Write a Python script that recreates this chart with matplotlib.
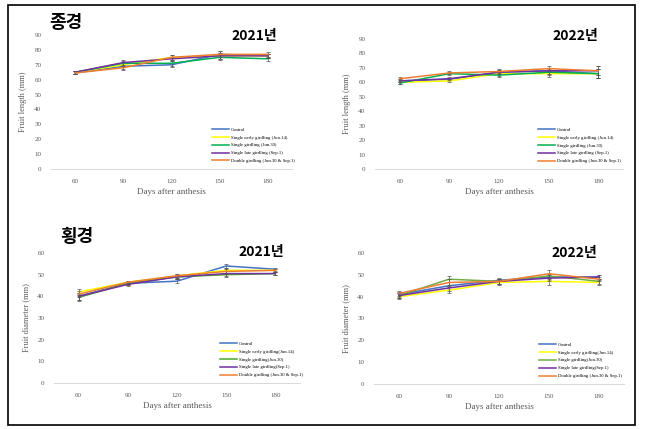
import matplotlib.pyplot as plt
from matplotlib.patches import Rectangle

days = [60, 90, 120, 150, 180]

labels_top = ['Control', 'Single early girdling (Jun.14)', 'Single girdling (Jun.30)',
              'Single late girdling (Sep.1)', 'Double girdling (Jun.30 & Sep.1)']
labels_bottom = ['Control', 'Single early girdling(Jun.14)', 'Single girdling(Jun.30)',
                 'Single late girdling(Sep.1)', 'Double girdling (Jun.30 & Sep.1)']

# fruit length, 2021
len21_control = [64.5, 69.0, 70.0, 77.0, 76.0]
len21_early = [65.0, 70.0, 75.0, 76.0, 76.0]
len21_single = [65.0, 71.0, 71.0, 75.0, 74.0]
len21_late = [65.0, 71.5, 74.0, 76.0, 76.0]
len21_double = [64.5, 68.0, 75.0, 77.0, 77.0]
len21_err = [1.0, 1.5, 1.5, 2.0, 1.5]

# fruit length, 2022
len22_control = [61.0, 62.0, 67.0, 68.0, 66.0]
len22_early = [60.0, 61.0, 66.0, 66.0, 66.0]
len22_single = [59.5, 66.0, 65.0, 67.0, 66.0]
len22_late = [61.0, 62.5, 67.0, 68.0, 68.0]
len22_double = [62.5, 66.5, 67.5, 69.5, 68.0]
len22_err = [1.0, 1.0, 1.5, 2.0, 3.0]

# fruit diameter, 2021
dia21_control = [40.0, 46.0, 47.0, 54.0, 52.5]
dia21_early = [42.0, 46.5, 49.5, 52.0, 52.0]
dia21_single = [39.5, 46.0, 49.0, 50.0, 50.5]
dia21_late = [40.0, 45.5, 49.0, 50.5, 50.5]
dia21_double = [41.0, 46.5, 49.5, 51.5, 52.0]
dia21_err = [1.5, 0.8, 1.0, 1.0, 0.8]

# fruit diameter, 2022
dia22_control = [41.0, 45.0, 47.5, 49.0, 49.0]
dia22_early = [40.0, 43.0, 46.5, 47.0, 46.5]
dia22_single = [40.5, 48.0, 47.0, 49.5, 47.0]
dia22_late = [40.5, 44.0, 47.0, 48.5, 49.0]
dia22_double = [41.5, 46.5, 47.0, 50.5, 48.0]
dia22_err = [1.0, 1.5, 1.0, 1.5, 1.0]

colors_top = ['#4472C4', '#FFFF00', '#00B050', '#7030A0', '#ED7D31']
colors_bl = ['#4472C4', '#FFFF00', '#4CA82A', '#7030A0', '#ED7D31']
colors_br = ['#4472C4', '#FFFF00', '#70AD47', '#7030A0', '#ED7D31']

serif = 'Liberation Serif'
kr = ['Noto Sans CJK KR', 'DejaVu Sans']

fig = plt.figure(figsize=(6.54, 4.29), dpi=100)
W, H = 654, 429


def px_axes(left, right, top, bottom):
    return fig.add_axes([left / W, 1 - bottom / H, (right - left) / W, (bottom - top) / H])


def panel(ax, series, err, labels, colors, ymax, ylabel, leg_anchor):
    for vals, lab, col in zip(series, labels, colors):
        ax.errorbar(days, vals, yerr=err, fmt='none', ecolor='#555555',
                    elinewidth=0.5, capsize=1.2, capthick=0.5)
        ax.plot(days, vals, color=col, lw=1.1, label=lab)
    ax.set_xlim(45, 195)
    ax.set_ylim(0, ymax)
    ax.set_xticks(days)
    ax.set_yticks(range(0, ymax + 1, 10))
    for s in ['top', 'right', 'left']:
        ax.spines[s].set_visible(False)
    ax.spines['bottom'].set_color('#d9d9d9')
    ax.spines['bottom'].set_linewidth(0.7)
    ax.tick_params(length=0, labelsize=5, labelcolor='#595959', pad=7)
    for t in ax.get_xticklabels() + ax.get_yticklabels():
        t.set_fontfamily(serif)
    ax.set_xlabel('Days after anthesis', fontsize=6.5, family=serif, color='#595959', labelpad=3)
    ax.set_ylabel(ylabel, fontsize=6, family=serif, color='#595959', labelpad=5)
    ax.legend(loc='lower right', bbox_to_anchor=leg_anchor, frameon=False,
              prop={'family': serif, 'size': 3.4}, handlelength=3.6,
              labelspacing=0.75, handletextpad=0.4, borderaxespad=0)


ax1 = px_axes(51, 292, 35, 169)
panel(ax1, [len21_control, len21_early, len21_single, len21_late, len21_double],
      len21_err, labels_top, colors_top, 90, 'Fruit length (mm)', (1.02, 0.03))

ax2 = px_axes(375, 623, 39, 169)
panel(ax2, [len22_control, len22_early, len22_single, len22_late, len22_double],
      len22_err, labels_top, colors_top, 90, 'Fruit length (mm)', (1.0, 0.03))

ax3 = px_axes(54, 300, 253, 383)
panel(ax3, [dia21_control, dia21_early, dia21_single, dia21_late, dia21_double],
      dia21_err, labels_bottom, colors_bl, 60, 'Fruit diameter (mm)', (1.02, 0.03))

ax4 = px_axes(374, 624, 253, 384)
panel(ax4, [dia22_control, dia22_early, dia22_single, dia22_late, dia22_double],
      dia22_err, labels_bottom, colors_br, 60, 'Fruit diameter (mm)', (1.0, 0.03))

# titles
fig.text(49 / W, 1 - 22 / H, '종경', fontsize=13, fontweight='bold', family=kr, va='center')
fig.text(60 / W, 1 - 237 / H, '횡경', fontsize=13, fontweight='bold', family=kr, va='center')
fig.text(231 / W, 1 - 36 / H, '2021년', fontsize=10, fontweight='bold', family=kr, va='center')
fig.text(552 / W, 1 - 36 / H, '2022년', fontsize=10, fontweight='bold', family=kr, va='center')
fig.text(238 / W, 1 - 252 / H, '2021년', fontsize=10, fontweight='bold', family=kr, va='center')
fig.text(551 / W, 1 - 253 / H, '2022년', fontsize=10, fontweight='bold', family=kr, va='center')

# outer frame
fig.patches.append(Rectangle((8 / W, 1 - 425 / H), (635 - 8) / W, (425 - 5) / H,
                             transform=fig.transFigure, fill=False, lw=1.2, ec='black'))

fig.savefig('out.png', dpi=100)
